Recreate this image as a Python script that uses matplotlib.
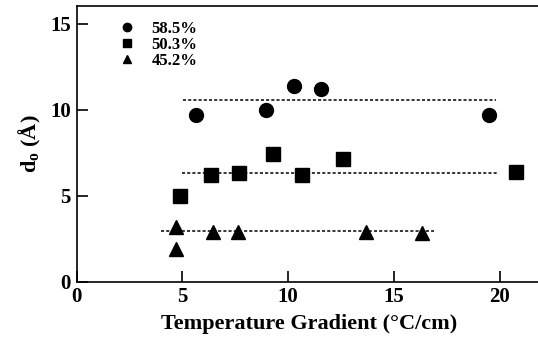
import matplotlib
matplotlib.use("Agg")
import matplotlib.pyplot as plt

plt.rcParams['font.family'] = ['Liberation Serif', 'DejaVu Serif']
plt.rcParams['font.weight'] = 'bold'
plt.rcParams['mathtext.fontset'] = 'custom'
plt.rcParams['mathtext.rm'] = 'Liberation Serif:bold'
plt.rcParams['mathtext.bf'] = 'Liberation Serif:bold'

# Data
x_585 = [5.64, 8.96, 10.28, 11.56, 19.49]
y_585 = [9.68, 9.95, 11.37, 11.17, 9.68]
fit_585_x = [5.02, 19.83]
fit_585_y = 10.55

x_503 = [4.91, 6.34, 7.70, 9.31, 10.68, 12.58, 20.78]
y_503 = [4.95, 6.19, 6.30, 7.41, 6.19, 7.12, 6.38]
fit_503_x = [4.97, 19.9]
fit_503_y = 6.33

x_452 = [4.69, 4.69, 6.47, 7.62, 13.67, 16.35]
y_452 = [3.15, 1.87, 2.88, 2.88, 2.88, 2.84]
fit_452_x = [3.98, 16.92]
fit_452_y = 2.92

labels = ['58.5%', '50.3%', '45.2%']
xticks = [0, 5, 10, 15, 20]
yticks = [0, 5, 10, 15]

fig = plt.figure(figsize=(5.38, 3.39), dpi=100)
ax = fig.add_axes([76.5/538, 57.5/339, 465.3/538, 275.2/339])

dash = (0, (2.0, 1.4))
ax.plot(fit_585_x, [fit_585_y]*2, color='black', lw=1.1, linestyle=dash)
ax.plot(fit_503_x, [fit_503_y]*2, color='black', lw=1.1, linestyle=dash)
ax.plot(fit_452_x, [fit_452_y]*2, color='black', lw=1.1, linestyle=dash)

h1, = ax.plot(x_585, y_585, 'o', color='black', ms=10, label=labels[0])
h2, = ax.plot(x_503, y_503, 's', color='black', ms=10, label=labels[1])
h3, = ax.plot(x_452, y_452, '^', color='black', ms=10, label=labels[2])

ax.set_xlim(0, 22)
ax.set_ylim(0, 16)
ax.set_xticks(xticks)
ax.set_yticks(yticks)
ax.tick_params(direction='in', length=8, width=1.2, labelsize=15, pad=4)
for lab in ax.get_xticklabels() + ax.get_yticklabels():
    lab.set_fontweight('bold')
for s in ['left', 'bottom', 'top']:
    ax.spines[s].set_linewidth(1.2)
ax.spines['right'].set_visible(False)

ax.set_xlabel('Temperature Gradient (°C/cm)', fontsize=16, fontweight='bold', labelpad=5)
ax.set_ylabel(r'd$_\mathrm{o}$ (Å)', fontsize=16, fontweight='bold', labelpad=5)

leg = ax.legend(handles=[h1, h2, h3], loc='upper left', bbox_to_anchor=(0.065, 0.99),
                frameon=False, fontsize=12, markerscale=0.6, handlelength=1.0,
                handletextpad=1.0, labelspacing=0.0, borderpad=0.2)
for t in leg.get_texts():
    t.set_fontweight('bold')

fig.savefig('out.png', dpi=100)
